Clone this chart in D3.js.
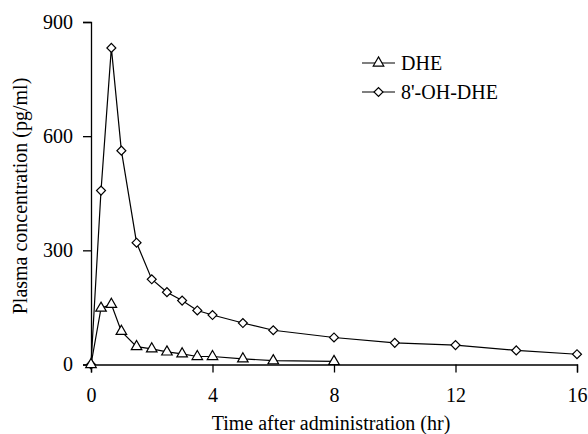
<!DOCTYPE html>
<html>
<head>
<meta charset="utf-8">
<script src="https://cdn.jsdelivr.net/npm/d3@7"></script>
<style>
body { margin: 0; background: #fff; }
svg text { font-family: "Liberation Serif", "DejaVu Serif", serif; fill: #000; }
</style>
</head>
<body>
<svg id="chart" width="588" height="434"></svg>
<script>
const timeDHE = [0, 0.33, 0.67, 1, 1.5, 2, 2.5, 3, 3.5, 4, 5, 6, 8]
const valuesDHE = [0, 148, 158, 87, 47, 41, 33, 28, 21, 21, 15, 10, 8]
const timeOH = [0, 0.33, 0.67, 1, 1.5, 2, 2.5, 3, 3.5, 4, 5, 6, 8, 10, 12, 14, 16]
const valuesOH = [0, 457, 832, 562, 320, 224, 190, 168, 142, 130, 109, 90, 71, 57, 51, 37, 27]
const xTicks = [0, 4, 8, 12, 16]
const yTicks = [0, 300, 600, 900]
const seriesNames = ['DHE', "8'-OH-DHE"]

const svg = d3.select('#chart')
const plotLeft = 91, plotRight = 577, plotTop = 22, plotBottom = 364.5
const fontSize = 20

const x = d3.scaleLinear().domain([0, 16]).range([plotLeft, plotRight])
const y = d3.scaleLinear().domain([0, 900]).range([plotBottom, plotTop])

// axes
const xAxis = svg.append('g')
    .attr('transform', `translate(0,${plotBottom})`)
    .call(d3.axisBottom(x).tickValues(xTicks).tickSize(8).tickPadding(15))
const yAxis = svg.append('g')
    .attr('transform', `translate(${plotLeft},0)`)
    .call(d3.axisLeft(y).tickValues(yTicks).tickSize(8).tickPadding(10))
;[xAxis, yAxis].forEach(ax => {
    ax.select('.domain').attr('stroke', '#000').attr('stroke-width', 1.3)
    ax.selectAll('.tick line').attr('stroke', '#000').attr('stroke-width', 1.3)
    ax.selectAll('.tick text').attr('font-size', fontSize).attr('font-family', '"Liberation Serif", serif')
})

svg.append('text')
    .attr('x', 331).attr('y', 430)
    .attr('text-anchor', 'middle')
    .attr('font-size', fontSize)
    .text('Time after administration (hr)')
svg.append('text')
    .attr('transform', `translate(27,196) rotate(-90)`)
    .attr('text-anchor', 'middle')
    .attr('font-size', fontSize)
    .text('Plasma concentration (pg/ml)')

const line = d3.line().x(d => x(d[0])).y(d => y(d[1]))
const triangle = d3.symbol().type(d3.symbolTriangle).size(48)
const diamond = d3.symbol().type(d3.symbolSquare).size(40)

function drawSeries(times, values, shape, rotate) {
    const pts = times.map((t, i) => [t, values[i]])
    svg.append('path')
        .datum(pts)
        .attr('d', line)
        .attr('fill', 'none')
        .attr('stroke', '#000')
        .attr('stroke-width', 1.2)
    svg.append('g').selectAll('path')
        .data(pts)
        .join('path')
        .attr('d', shape)
        .attr('transform', d => `translate(${x(d[0])},${y(d[1])}) rotate(${rotate})`)
        .attr('fill', '#fff')
        .attr('stroke', '#000')
        .attr('stroke-width', 1.2)
}
drawSeries(timeOH, valuesOH, diamond, 45)
drawSeries(timeDHE, valuesDHE, triangle, 0)

// legend
const legend = svg.append('g')
const shapes = [[triangle, 0], [diamond, 45]]
seriesNames.forEach((name, i) => {
    const ly = 63 + i * 29
    legend.append('line')
        .attr('x1', 362).attr('x2', 395).attr('y1', ly).attr('y2', ly)
        .attr('stroke', '#000').attr('stroke-width', 1.2)
    legend.append('path')
        .attr('d', shapes[i][0])
        .attr('transform', `translate(378.5,${ly}) rotate(${shapes[i][1]})`)
        .attr('fill', '#fff').attr('stroke', '#000').attr('stroke-width', 1.2)
    legend.append('text')
        .attr('x', 401).attr('y', ly + 7)
        .attr('font-size', fontSize)
        .text(name)
})
</script>
</body>
</html>
